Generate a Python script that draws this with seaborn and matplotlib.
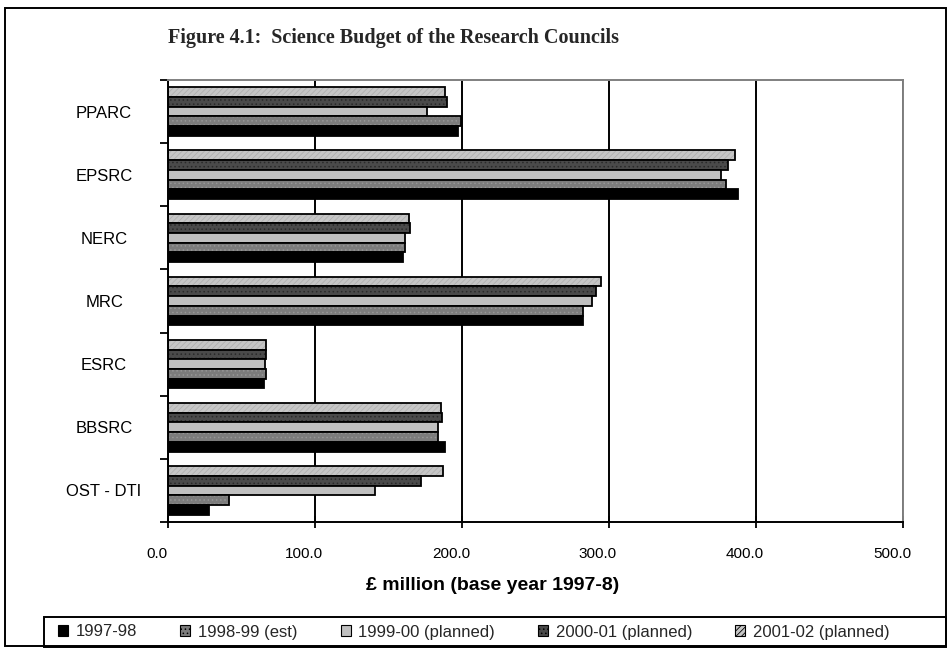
import pandas as pd
import matplotlib.pyplot as plt
import seaborn as sns
from matplotlib.patches import Patch, Rectangle
from matplotlib.ticker import FixedLocator
import matplotlib.transforms as mtransforms

# values (GBP million, base year 1997-8)
councils = ["PPARC", "EPSRC", "NERC", "MRC", "ESRC", "BBSRC", "OST - DTI"]
years = ["1997-98", "1998-99 (est)", "1999-00 (planned)", "2000-01 (planned)", "2001-02 (planned)"]
v_1997 = [197.0, 387.5, 160.0, 282.1, 65.3, 188.4, 28.1]
v_1998 = [199.3, 379.4, 161.2, 282.5, 66.7, 183.9, 41.7]
v_1999 = [176.4, 376.2, 161.2, 288.2, 66.0, 183.9, 140.8]
v_2000 = [190.0, 381.2, 164.4, 291.2, 66.7, 186.4, 172.1]
v_2001 = [188.4, 385.7, 164.2, 294.3, 66.7, 185.7, 187.3]
x_ticks = [0, 100, 200, 300, 400, 500]

colours = {
    "1997-98": "#000000",
    "1998-99 (est)": "#7c7c7c",
    "1999-00 (planned)": "#c0c0c0",
    "2000-01 (planned)": "#4a4a4a",
    "2001-02 (planned)": "#c6c6c6",
}
hatches = {
    "1998-99 (est)": "....",
    "2000-01 (planned)": "....",
    "2001-02 (planned)": "//////",
}
hatch_cols = {
    "1998-99 (est)": "#969696",
    "2000-01 (planned)": "#2a2a2a",
    "2001-02 (planned)": "#b0b0b0",
}


def main():
    sns.set_theme(style="white")
    plt.rcParams["font.family"] = ["Liberation Sans", "DejaVu Sans"]
    plt.rcParams["hatch.linewidth"] = 0.6

    rows = []
    for year, vals in zip(years, [v_1997, v_1998, v_1999, v_2000, v_2001]):
        for c, v in zip(councils, vals):
            rows.append({"council": c, "year": year, "value": v})
    df = pd.DataFrame(rows)

    fig = plt.figure(figsize=(9.52, 6.51), dpi=100)
    ax = fig.add_axes([168 / 952, 1 - 522 / 651, 735 / 952, 442 / 651])

    # 1997-98 sits at the bottom of each group, so draw the hue levels reversed
    order = years[::-1]
    sns.barplot(data=df, x="value", y="council", hue="year", hue_order=order,
                order=councils, palette=colours, orient="h", width=0.77,
                saturation=1, edgecolor="black", linewidth=1.3, legend=False,
                errorbar=None, ax=ax)

    for year, cont in zip(order, ax.containers):
        if year in hatches:
            for bar in cont:
                bar.set_hatch(hatches[year])
                bar._hatch_color = plt.matplotlib.colors.to_rgba(hatch_cols[year])

    ax.set_xlim(0, 500)
    ax.set_ylim(6.5, -0.5)
    ax.set_xticks(x_ticks)
    ax.set_xticklabels([f"{t:.1f}" for t in x_ticks], fontsize=11, color="black")
    ax.tick_params(axis="x", which="major", direction="inout", length=8,
                   width=1.3, color="black", pad=14, bottom=True)
    offset = mtransforms.ScaledTranslation(-0.11, 0, fig.dpi_scale_trans)
    for lab in ax.get_xticklabels():
        lab.set_transform(lab.get_transform() + offset)

    # category labels centred, tick marks between the groups
    ax.set_yticks(range(len(councils)))
    ax.set_yticklabels(councils, fontsize=12, ha="center", color="black")
    ax.tick_params(axis="y", which="major", length=0, pad=46)
    ax.yaxis.set_minor_locator(FixedLocator([i - 0.5 for i in range(len(councils) + 1)]))
    ax.tick_params(axis="y", which="minor", direction="out", length=6,
                   width=1.3, color="black", left=True)

    ax.xaxis.grid(True, color="black", linewidth=1.4)
    ax.set_axisbelow(True)
    ax.set_ylabel("")
    ax.set_xlabel("£ million (base year 1997-8)", fontsize=14,
                  fontweight="bold", color="black")
    ax.xaxis.set_label_coords((493 - 168) / 735, -(585 - 522) / 442)
    ax.xaxis.label.set_va("center")

    for side in ["left", "bottom"]:
        ax.spines[side].set_color("black")
        ax.spines[side].set_linewidth(1.4)
    for side in ["top", "right"]:
        ax.spines[side].set_color("#808080")
        ax.spines[side].set_linewidth(1.4)

    fig.text(168 / 952, 1 - 38 / 651, "Figure 4.1:  Science Budget of the Research Councils",
             family=["Liberation Serif", "DejaVu Serif"], fontweight="bold",
             fontsize=14.5, va="center", ha="left")

    # legend: own box across the bottom, entries packed from the left
    handles = [Patch(facecolor=colours[y], edgecolor="black", linewidth=0.8,
                     hatch=hatches.get(y)) for y in years]
    fig.legend(handles, years, loc="center left", ncol=5,
               bbox_to_anchor=(58 / 952, 19 / 651),
               fontsize=12, frameon=False,
               handlelength=0.6, handleheight=0.6, handletextpad=0.45,
               columnspacing=2.6, borderaxespad=0, borderpad=0)
    fig.patches.append(Rectangle((44 / 952, 4 / 651), 902 / 952, 30 / 651,
                                 transform=fig.transFigure, fill=False,
                                 edgecolor="black", linewidth=1.4))

    fig.patches.append(Rectangle((5 / 952, 5 / 651), 941 / 952, 638 / 651,
                                 transform=fig.transFigure, fill=False,
                                 edgecolor="black", linewidth=1.4))

    plt.savefig("out.png", dpi=100)
    plt.close()


if __name__ == "__main__":
    main()
